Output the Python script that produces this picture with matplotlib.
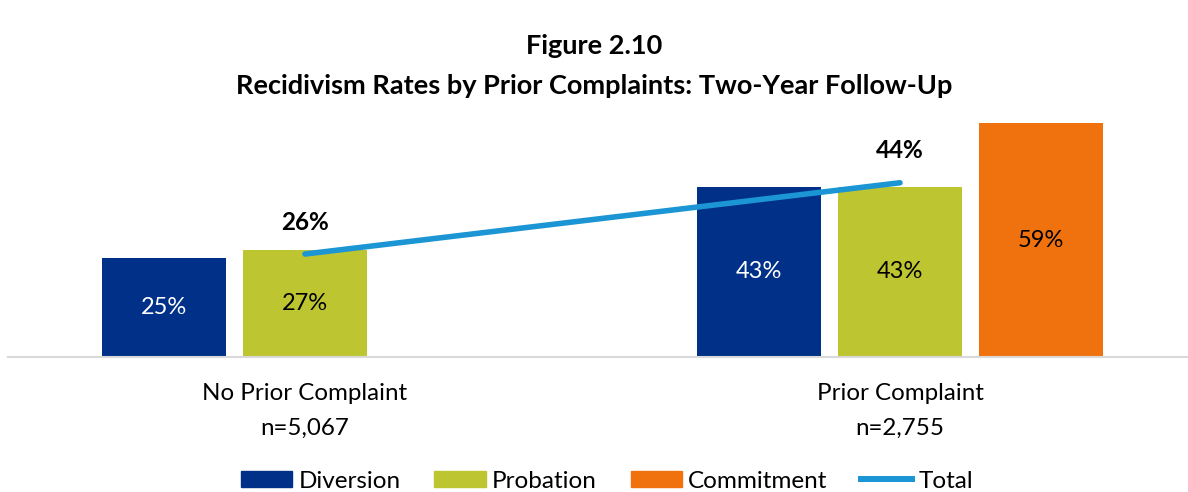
import numpy as np
import matplotlib
matplotlib.use("Agg")
import matplotlib.pyplot as plt
from matplotlib.patches import Patch
from matplotlib.lines import Line2D

categories = ["No Prior Complaint\nn=5,067", "Prior Complaint\nn=2,755"]
series = ["Diversion", "Probation", "Commitment"]
diversion = [25, 43]
probation = [27, 43]
commitment = [np.nan, 59]
total = [26, 44]

colors = {"Diversion": "#003087", "Probation": "#BDC531", "Commitment": "#F0720F"}
label_colors = {"Diversion": "white", "Probation": "black", "Commitment": "black"}
line_color = "#1B95D3"

plt.rcParams['font.family'] = ['Lato', 'DejaVu Sans']

fig = plt.figure(figsize=(11.88, 4.92), dpi=100)
ax = fig.add_axes([7.5/1188, 135/492, 1190/1188, 237.6/492])

x = np.arange(len(categories))
width = 0.21
step = 0.237
vals = [diversion, probation, commitment]
for i, (name, v) in enumerate(zip(series, vals)):
    pos = x + (i - 1) * step
    ax.bar(pos, v, width, color=colors[name], zorder=2)
    for p, val in zip(pos, v):
        if not np.isnan(val):
            ax.text(p, val / 2, f"{val:.0f}%", ha="center", va="center",
                    color=label_colors[name], fontsize=17, zorder=3)

ax.plot(x, total, color=line_color, lw=4, solid_capstyle="round", zorder=4)
for xi, t in zip(x, total):
    ax.annotate(f"{t}%", (xi, t), xytext=(0, 23), textcoords="offset points",
                ha="center", va="center", fontsize=17.5, fontweight="bold", color="black")

ax.set_xlim(-0.5, 1.5)
ax.set_ylim(0, 60)
ax.set_yticks([])
ax.set_xticks(x)
ax.set_xticklabels(categories, fontsize=17.4, linespacing=1.8)
ax.tick_params(axis="x", length=0, pad=19)
for s in ["top", "left", "right"]:
    ax.spines[s].set_visible(False)
ax.spines["bottom"].set_color("#D9D9D9")
ax.spines["bottom"].set_linewidth(1.5)

fig.text(0.5, 1 - 46/492, "Figure 2.10", ha="center", va="center",
         fontsize=19.5, fontweight="bold")
fig.text(0.5, 1 - 86/492, "Recidivism Rates by Prior Complaints: Two-Year Follow-Up",
         ha="center", va="center", fontsize=19.5, fontweight="bold")

handles = [Patch(color=colors[s]) for s in series] + [Line2D([0], [0], color=line_color, lw=4.3)]
fig.legend(handles, series + ["Total"], loc="center", bbox_to_anchor=(607/1188, 1 - 481/492),
           ncol=4, frameon=False, fontsize=17.5, handlelength=2.1, handleheight=0.59,
           columnspacing=1.4, handletextpad=0.25)

fig.savefig("out.png", dpi=100)
